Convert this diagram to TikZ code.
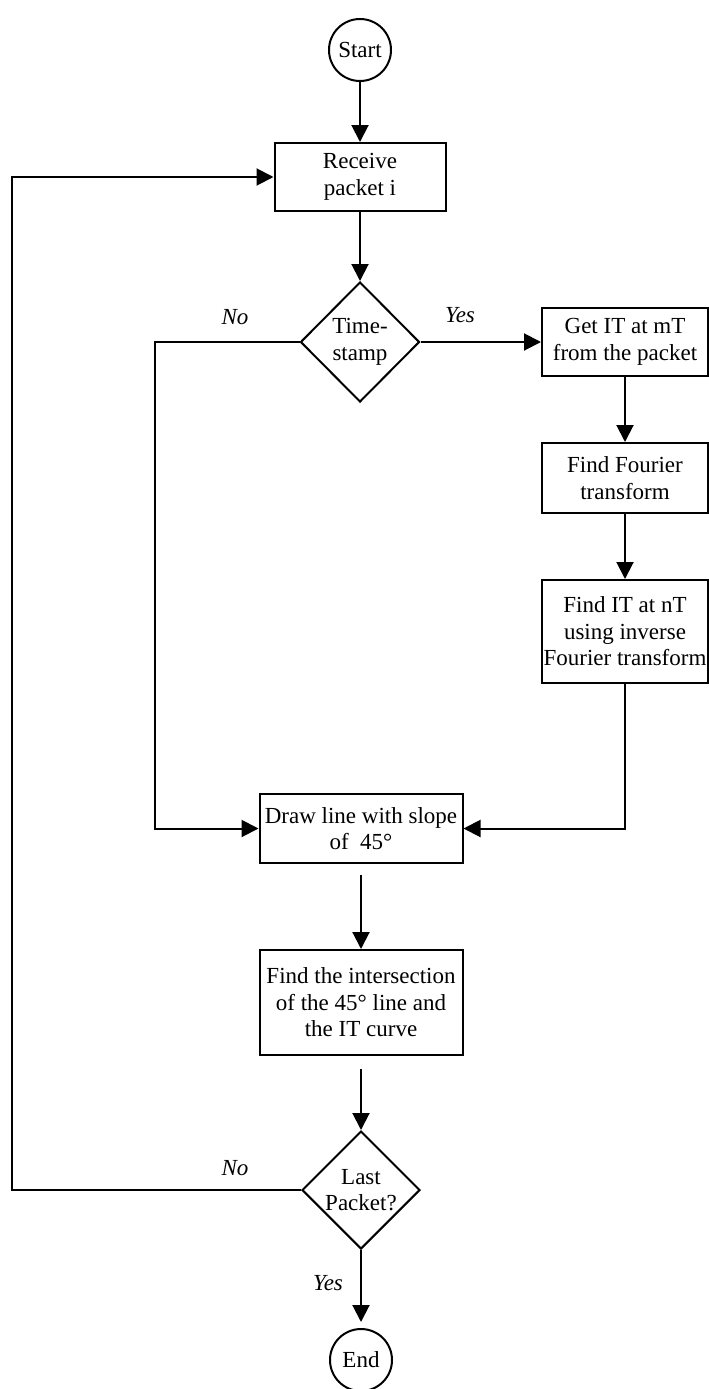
\documentclass[tikz,border=0pt]{standalone}
\usepackage{fontspec}
\setmainfont{Liberation Serif}
\usetikzlibrary{arrows.meta,shapes.geometric}
\begin{document}
\begin{tikzpicture}[x=1pt,y=-1pt,
 every node/.style={font=\fontsize{23}{26.5}\selectfont},
 proc/.style={draw,line width=2pt,rectangle,inner sep=0pt,align=center},
 term/.style={draw,line width=2pt,circle,minimum size=62pt,inner sep=0pt},
 dec/.style={draw,line width=2pt,diamond,inner sep=0pt},
 conn/.style={line width=2pt,-{Triangle[length=17pt,width=17pt]}},
 lbl/.style={font=\fontsize{23}{26.5}\selectfont\itshape}]
\useasboundingbox (0,0) rectangle (709,1389);

\node[term] (start) at (360,50) {Start};
\node[proc,minimum width=171pt,minimum height=68pt] (recv) at (360,177) {Receive\\packet i};
\node[dec,minimum width=119pt,minimum height=120pt] (ts) at (360,342) {};
\node[align=center] (tst) at (ts) {Time-\\stamp};
\node[proc,minimum width=166pt,minimum height=68pt] (get) at (625,342) {Get IT at mT\\from the packet};
\node[proc,minimum width=166pt,minimum height=70pt] (ft) at (625,478) {Find Fourier\\transform};
\node[proc,minimum width=166pt,minimum height=103pt] (ift) at (625,631.5) {Find IT at nT\\using inverse\\Fourier transform};
\node[proc,minimum width=203pt,minimum height=69pt] (drw) at (361,828.5) {Draw line with slope\\of\ \ 45°};
\node[proc,minimum width=203pt,minimum height=105pt] (isect) at (361,1002.5) {Find the intersection\\of the 45° line and\\the IT curve};
\node[dec,minimum width=118pt,minimum height=118pt] (lp) at (361,1190) {};
\node[align=center] (lpt) at (lp) {Last\\Packet?};
\node[term] (end) at (361,1360) {End};

\node[lbl] (no1) at (235,317) {No};
\node[lbl] (yes1) at (460,315) {Yes};
\node[lbl] (no2) at (235,1168) {No};
\node[lbl] (yes2) at (328,1283) {Yes};

\coordinate (nc) at (155,342);
\coordinate (lc) at (12,1190);

\draw[conn] (start) -- (recv);
\draw[conn] (recv) -- (ts);
\draw[conn] (ts.east) -- (get.west);
\draw[conn] (get) -- (ft);
\draw[conn] (ft) -- (ift);
\draw[conn] (ift.south) |- (drw.east);
\draw[conn] (ts.west) -- (nc) |- (drw.west);
\draw[conn,shorten <=11pt] (drw) -- (isect);
\draw[conn,shorten <=13pt] (isect) -- (lp);
\draw[conn,shorten >=6pt] (lp) -- (end);
\draw[conn] (lp.west) -- (lc) |- (recv.west);
\end{tikzpicture}
\end{document}
